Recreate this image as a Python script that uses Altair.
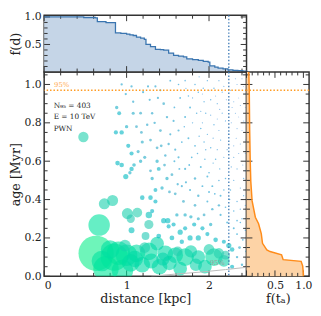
import math
import altair as alt
import pandas as pd

FONT = "DejaVu Serif"
INK = "#333333"
TXT = "#222222"

# ---------------- main scatter: distance [kpc], age [Myr], flux (rel.) ----------------
dist = [
    0.63, 0.85, 0.75, 0.95, 1.00, 1.12, 1.27, 1.37, 1.47, 1.59, 1.71, 1.87, 2.06, 2.18, 1.19, 1.40, 1.65, 1.95, 0.90, 1.05,
    0.667, 0.73, 0.83, 1.01, 1.13, 1.05, 0.476,
    0.94, 1.06, 1.26, 1.35, 1.41, 1.53, 1.63, 1.71, 1.83, 1.87, 1.93, 1.98, 2.06, 2.12, 2.16, 2.34, 2.40, 2.44, 0.99, 1.38,
    1.45, 1.65, 1.75, 1.94, 2.02, 2.10, 2.30, 2.38, 1.08, 1.88,
    0.88, 0.91, 1.08, 1.17, 1.31, 1.49, 1.57, 1.71, 1.77, 1.85, 1.96, 2.06, 2.16, 2.20, 2.32, 2.42, 1.41, 1.63, 1.18, 0.87,
    0.94, 1.90, 1.98, 2.34,
    1.02, 1.06, 1.19, 1.29, 1.37, 1.42, 1.51, 1.59, 1.63, 1.75, 1.83, 1.94, 2.02, 2.14, 2.22, 2.38, 2.44, 1.79, 2.08, 2.30,
    1.17, 1.09,
    0.89, 0.94, 1.06, 1.04, 0.99, 1.37, 1.39, 1.29, 1.46, 1.31, 1.49, 1.55, 1.71, 1.90, 1.83, 1.98, 2.04, 2.20, 2.34, 2.42,
    1.67, 1.35, 1.43, 2.26, 1.77,
    1.19, 1.29, 1.35, 1.31, 1.59, 1.69, 1.83, 1.87, 2.14, 2.12, 2.04, 1.94, 2.14, 1.61, 1.71, 1.78, 1.87, 2.38, 2.34, 2.42,
    1.98,
    1.45, 1.50, 1.57, 1.51, 1.65, 1.71, 1.82, 1.92, 2.02, 1.87, 1.77, 1.98, 2.08, 2.18, 2.22, 2.30, 2.34, 2.38, 1.27, 1.27,
    1.23, 1.06, 2.24, 2.28, 2.37, 2.28, 1.67, 1.55, 1.39,
    1.72, 1.80, 1.92, 2.00, 2.08, 2.18, 2.26, 2.32, 2.42, 2.21, 2.28, 2.13, 2.02, 1.90, 1.80, 1.92, 2.10, 2.27, 2.40, 2.36,
    2.44, 2.12, 2.24, 2.05, 1.88, 1.70, 1.67, 1.86, 1.96, 2.10, 2.18, 2.30, 2.36, 2.41, 2.27, 2.13, 2.05, 1.95, 1.76, 1.64,
    1.58, 2.00, 2.12, 2.30, 2.38, 2.44, 1.92, 2.18, 1.72, 2.07, 2.25, 2.44, 2.30, 2.20, 2.00, 1.52, 1.62, 1.47, 1.53, 1.58,
    1.28, 1.20, 1.12, 1.25, 1.34, 1.14, 1.22, 1.00, 2.44, 2.44, 2.42, 2.36, 2.33, 2.40, 2.44, 2.34, 2.41, 2.45, 2.34, 2.40,
    0.70, 0.80, 1.10, 1.30, 1.52, 1.78, 2.00, 2.12, 0.98, 1.22, 1.44, 1.62, 1.84, 2.20,
]
age = [
    0.12, 0.10, 0.04, 0.03, 0.11, 0.12, 0.13, 0.17, 0.12, 0.11, 0.10, 0.10, 0.10, 0.08, 0.06, 0.05, 0.04, 0.05, 0.12, 0.07,
    0.267, 0.378, 0.395, 0.327, 0.332, 0.30, 0.726,
    1.00, 0.99, 0.99, 0.99, 0.97, 1.02, 1.00, 1.02, 1.00, 0.96, 0.98, 1.02, 0.98, 1.02, 0.96, 1.00, 1.03, 0.95, 0.95, 0.93,
    0.90, 0.93, 0.94, 0.91, 0.92, 0.90, 0.91, 0.89, 0.91, 1.04,
    0.88, 0.85, 0.85, 0.85, 0.85, 0.83, 0.81, 0.83, 0.88, 0.85, 0.85, 0.79, 0.85, 0.81, 0.85, 0.81, 0.76, 0.76, 0.75, 0.75,
    0.75, 0.77, 0.74, 0.77,
    0.68, 0.64, 0.70, 0.71, 0.67, 0.68, 0.69, 0.66, 0.62, 0.72, 0.68, 0.70, 0.67, 0.71, 0.66, 0.69, 0.64, 0.62, 0.61, 0.62,
    0.60, 0.58,
    0.59, 0.58, 0.56, 0.54, 0.52, 0.60, 0.56, 0.55, 0.58, 0.51, 0.51, 0.53, 0.56, 0.57, 0.51, 0.52, 0.47, 0.51, 0.56, 0.51,
    0.47, 0.45, 0.46, 0.45, 0.45,
    0.41, 0.41, 0.39, 0.34, 0.43, 0.39, 0.37, 0.42, 0.42, 0.37, 0.35, 0.32, 0.32, 0.32, 0.32, 0.31, 0.30, 0.35, 0.39, 0.42,
    0.39,
    0.29, 0.29, 0.27, 0.26, 0.23, 0.25, 0.27, 0.25, 0.27, 0.20, 0.20, 0.22, 0.19, 0.18, 0.28, 0.25, 0.22, 0.28, 0.27, 0.32,
    0.21, 0.24, 0.16, 0.14, 0.15, 0.05, 0.18, 0.20, 0.21,
    0.98, 0.93, 0.95, 0.97, 0.94, 0.99, 0.97, 1.03, 0.99, 0.92, 0.88, 0.87, 0.84, 0.86, 0.80, 0.80, 0.82, 0.80, 0.76, 0.83,
    0.88, 0.76, 0.74, 0.72, 0.73, 0.78, 0.70, 0.64, 0.66, 0.66, 0.62, 0.68, 0.64, 0.58, 0.57, 0.56, 0.59, 0.61, 0.58, 0.56,
    0.60, 0.54, 0.50, 0.50, 0.46, 0.55, 0.47, 0.45, 0.49, 0.43, 0.40, 0.37, 0.34, 0.36, 0.44, 0.44, 0.48, 0.63, 0.74, 0.88,
    0.92, 0.96, 0.78, 0.79, 0.80, 0.65, 0.62, 0.78, 0.71, 0.80, 1.05, 0.93, 0.72, 0.30, 0.24, 0.29, 0.19, 0.13, 0.10, 0.06,
    0.08, 0.14, 0.09, 0.08, 0.07, 0.13, 0.14, 0.12, 0.16, 0.15, 0.09, 0.13, 0.06, 0.11,
]
flux = [
    324, 196, 169, 121, 121, 81, 81, 49, 64, 64, 81, 49, 81, 36, 64, 64, 49, 49, 144, 81,
    121, 32, 32, 32, 25, 18, 28,
    1.4, 1.4, 1.2, 1.2, 1.2, 0.9, 0.7, 0.6, 0.6, 0.6, 0.5, 0.5, 0.5, 0.4, 0.4, 0.3, 0.3, 0.3, 1.4, 1.3,
    1.8, 0.9, 0.6, 0.5, 0.5, 0.4, 0.3, 0.3, 1.4, 0.4,
    3.0, 4.0, 2.5, 2.0, 1.5, 1.5, 1.2, 1.0, 1.0, 0.6, 0.5, 0.5, 0.4, 0.4, 0.3, 0.3, 2.0, 1.2, 2.0, 4.5,
    5.0, 0.6, 0.5, 0.3,
    4.5, 4.5, 2.5, 2.0, 2.0, 2.0, 1.5, 1.2, 1.2, 1.0, 0.8, 0.6, 0.6, 0.5, 0.4, 0.3, 0.3, 0.8, 0.6, 0.4,
    3.0, 3.5,
    5.5, 5.5, 5.0, 3.0, 7.0, 3.0, 4.0, 2.0, 2.0, 3.0, 3.0, 2.0, 1.2, 1.0, 1.5, 1.0, 1.0, 0.6, 0.4, 0.4,
    1.2, 4.0, 3.0, 0.6, 1.2,
    5.5, 5.5, 4.5, 4.5, 2.0, 2.0, 1.8, 1.5, 1.0, 1.5, 1.5, 2.0, 1.2, 3.0, 3.0, 3.0, 2.5, 0.5, 0.5, 0.4,
    1.0,
    7.0, 7.0, 4.5, 4.5, 7.0, 4.5, 4.5, 4.5, 3.0, 7.0, 7.0, 4.5, 5.5, 4.5, 1.0, 1.0, 1.0, 0.6, 22, 11,
    16, 9, 7.0, 5.5, 2.0, 4.5, 5.0, 6.0, 6.0,
    0.4, 0.4, 0.3, 0.3, 0.3, 0.3, 0.3, 0.3, 0.25, 0.3, 0.3, 0.3, 0.35, 0.4, 0.5, 0.4, 0.3, 0.3, 0.25, 0.25,
    0.25, 0.35, 0.3, 0.4, 0.5, 0.6, 0.8, 0.6, 0.5, 0.4, 0.4, 0.3, 0.3, 0.3, 0.4, 0.5, 0.5, 0.6, 0.9, 1.0,
    1.0, 0.7, 0.6, 0.4, 0.4, 0.3, 1.0, 0.6, 1.2, 0.8, 0.6, 0.4, 0.6, 0.7, 1.0, 2.0, 1.4, 1.5, 1.2, 0.8,
    1.2, 1.2, 2.0, 1.6, 1.5, 2.5, 2.5, 3.0, 0.25, 0.25, 0.25, 0.25, 0.3, 0.5, 0.5, 0.7, 0.8, 1.0, 1.5, 1.5,
    110, 90, 70, 60, 55, 40, 30, 28, 36, 30, 45, 25, 40, 20,
]

# ---------------- top panel: f(d) ----------------
fd_d = [0, 0.48, 0.62, 0.645, 0.75, 0.865, 0.93, 1.0, 1.04, 1.08, 1.12, 1.17, 1.215, 1.235, 1.29, 1.35, 1.41, 1.45,
        1.51, 1.57, 1.63, 1.69, 1.73, 1.80, 1.87, 1.93, 1.99, 2.01, 2.07, 2.11, 2.17, 2.23, 2.29, 2.35, 2.41, 2.455]
fd_f = [1.0, 0.99, 0.985, 0.913, 0.895, 0.71, 0.70, 0.69, 0.675, 0.663, 0.634, 0.615, 0.594, 0.50, 0.46, 0.413, 0.405,
        0.396, 0.344, 0.303, 0.29, 0.274, 0.239, 0.225, 0.21, 0.195, 0.181, 0.111, 0.09, 0.07, 0.055, 0.04, 0.03,
        0.024, 0.015, 0.012]

# ---------------- right panel: f(t_a) ----------------
ft_age = [0.0, 0.01, 0.053, 0.078, 0.087, 0.112, 0.129, 0.138, 0.172, 0.223, 0.274, 0.308, 0.393, 0.495, 0.6, 0.767,
          0.97, 1.065]
ft_f = [1.0, 1.0, 0.988, 0.96, 0.644, 0.616, 0.414, 0.357, 0.281, 0.259, 0.212, 0.155, 0.098, 0.075, 0.065, 0.055,
        0.048, 0.04]

labels_txt = ["N\u2089\u2085 = 403", "E = 10 TeV", "PWN"]
labels_age = [0.888, 0.829, 0.770]
labels_d = [0.115, 0.115, 0.115]

D95 = 2.24
A95 = 0.97
contour_d = [1.30, 1.60, 1.90, 2.20, 2.455]
contour_a = [0.0, 0.012, 0.022, 0.035, 0.047]

# ---------------- scales / ticks ----------------
D_DOM, A_DOM, FD_DOM, FT_DOM = [0.0, 2.455], [0.0, 1.065], [0.0, 1.03], [0.0, 1.1]
W_MAIN, H_MAIN, W_RIGHT, H_TOP = 207, 209, 64, 58

xs = alt.Scale(domain=D_DOM, nice=False, zero=False)
ys = alt.Scale(domain=A_DOM, nice=False, zero=False)
fds = alt.Scale(domain=FD_DOM, nice=False, zero=False)
fts = alt.Scale(domain=FT_DOM, nice=False, zero=False)

MAJ, MINL = 6, 3.5

x_major = [0, 1, 2]
x_minor = [round(0.2 * i, 2) for i in range(1, 13) if i % 5 != 0]
a_major = [0.0, 0.2, 0.4, 0.6, 0.8, 1.0]
a_minor = [round(0.05 * i, 2) for i in range(1, 22) if i % 4 != 0]
fd_major = [0.5, 1.0]
fd_minor = [round(0.1 * i, 1) for i in range(1, 11) if i % 5 != 0]
ft_major = [0.0, 0.5, 1.0]
ft_minor = [round(0.1 * i, 1) for i in range(1, 11) if i % 5 != 0]

SIDES = ["bottom", "top", "left", "right"]
PATHS = ["M0,0L0,-1", "M0,0L0,1", "M0,0L1,0", "M0,0L-1,0"]


def tick_table(xvals, yvals, xdom, ydom):
    rows = []
    for v in xvals:
        rows.append({"tx": v, "ty": ydom[0], "side": "bottom"})
        rows.append({"tx": v, "ty": ydom[1], "side": "top"})
    for v in yvals:
        rows.append({"tx": xdom[0], "ty": v, "side": "left"})
        rows.append({"tx": xdom[1], "ty": v, "side": "right"})
    return pd.DataFrame(rows)


def tick_layer(xvals, yvals, xscale, yscale, xdom, ydom, L):
    return alt.Chart(tick_table(xvals, yvals, xdom, ydom)).mark_point(
        size=(2 * L) ** 2, filled=False, color=INK, strokeWidth=1, opacity=1
    ).encode(
        x=alt.X("tx:Q", scale=xscale, axis=None),
        y=alt.Y("ty:Q", scale=yscale, axis=None),
        shape=alt.Shape("side:N", scale=alt.Scale(domain=SIDES, range=PATHS), legend=None),
    )


lab = dict(domain=False, ticks=False, grid=False, labelPadding=3)

main_df = pd.DataFrame({"distance": dist, "age": age, "flux": flux})
main_df["lflux"] = [math.log10(v) for v in flux]
fd_df = pd.DataFrame({"d": fd_d, "f": fd_f})
ft_df = pd.DataFrame({"age": ft_age, "f": ft_f})
txt_df = pd.DataFrame({"d": labels_d, "age": labels_age, "t": labels_txt})
cont_df = pd.DataFrame({"d": contour_d, "age": contour_a})

# ---------------- main panel ----------------
scatter = alt.Chart(main_df).mark_circle(opacity=0.6, clip=True).encode(
    x=alt.X("distance:Q", scale=xs,
            axis=alt.Axis(orient="bottom", values=x_major, format="d", title="distance [kpc]", titlePadding=3, **lab)),
    y=alt.Y("age:Q", scale=ys,
            axis=alt.Axis(orient="left", values=a_major, format=".1f", title="age [Myr]", titlePadding=2, **lab)),
    size=alt.Size("flux:Q", scale=alt.Scale(domain=[0, 330], range=[0, 1320]), legend=None),
    color=alt.Color("lflux:Q", scale=alt.Scale(domain=[-0.6, 0.3, 1.3, 2.52],
                                               range=["#3a84d8", "#2aa6c6", "#2ccbb0", "#10ef8c"]), legend=None),
    order=alt.Order("flux:Q", sort="descending"),
)
contour = alt.Chart(cont_df).mark_line(color="#bbbbbb", strokeWidth=1, clip=True).encode(
    x=alt.X("d:Q", scale=xs, axis=None), y=alt.Y("age:Q", scale=ys, axis=None))
vline_main = alt.Chart(pd.DataFrame({"d": [D95]})).mark_rule(color="#3a78b5", strokeDash=[1.5, 2], strokeWidth=1.3).encode(
    x=alt.X("d:Q", scale=xs, axis=None))
hline_main = alt.Chart(pd.DataFrame({"age": [A95]})).mark_rule(color="#ff9a1f", strokeDash=[1.5, 2], strokeWidth=1.4).encode(
    y=alt.Y("age:Q", scale=ys, axis=None))
notes = alt.Chart(txt_df).mark_text(align="left", baseline="middle", font=FONT, fontSize=7.5, color=TXT).encode(
    x=alt.X("d:Q", scale=xs, axis=None), y=alt.Y("age:Q", scale=ys, axis=None), text="t:N")
p95_orange = alt.Chart(pd.DataFrame({"d": [0.12], "age": [0.995], "t": ["95%"]})).mark_text(
    align="left", baseline="middle", font=FONT, fontSize=7, color="#ffab55").encode(
    x=alt.X("d:Q", scale=xs, axis=None), y=alt.Y("age:Q", scale=ys, axis=None), text="t:N")
p95_gray = alt.Chart(pd.DataFrame({"d": [2.10], "age": [0.07], "t": ["95%"]})).mark_text(
    align="center", baseline="middle", font=FONT, fontSize=7, color="#9a9a9a").encode(
    x=alt.X("d:Q", scale=xs, axis=None), y=alt.Y("age:Q", scale=ys, axis=None), text="t:N")

main = alt.layer(
    tick_layer(x_major, a_major, xs, ys, D_DOM, A_DOM, MAJ),
    tick_layer(x_minor, a_minor, xs, ys, D_DOM, A_DOM, MINL),
    scatter, contour, vline_main, hline_main, notes, p95_orange, p95_gray,
).resolve_axis(x="independent", y="independent").resolve_scale(size="independent", shape="independent",
                                                                 color="independent").properties(width=W_MAIN, height=H_MAIN)

# ---------------- top panel ----------------
fd_area = alt.Chart(fd_df).mark_area(interpolate="step-after", color="#c5d5e7", opacity=1).encode(
    x=alt.X("d:Q", scale=xs, axis=None),
    y=alt.Y("f:Q", scale=fds,
            axis=alt.Axis(orient="left", values=fd_major, format=".1f", title="f(d)", titlePadding=2, **lab)))
fd_line = alt.Chart(fd_df).mark_line(interpolate="step-after", color="#3a75b0", strokeWidth=1.3).encode(
    x=alt.X("d:Q", scale=xs, axis=None), y=alt.Y("f:Q", scale=fds, axis=None))
vline_top = alt.Chart(pd.DataFrame({"d": [D95]})).mark_rule(color="#3a78b5", strokeDash=[1.5, 2], strokeWidth=1.3).encode(
    x=alt.X("d:Q", scale=xs, axis=None))
top = alt.layer(
    fd_area,
    tick_layer(x_major, fd_major, xs, fds, D_DOM, FD_DOM, MAJ),
    tick_layer(x_minor, fd_minor, xs, fds, D_DOM, FD_DOM, MINL),
    fd_line, vline_top,
).resolve_axis(x="independent", y="independent").properties(width=W_MAIN, height=H_TOP)

# ---------------- right panel ----------------
ft_area = alt.Chart(ft_df).mark_area(orient="horizontal", color="#fdd3a6", opacity=1).encode(
    y=alt.Y("age:Q", scale=ys, axis=None),
    x=alt.X("f:Q", scale=fts, stack=None,
            axis=alt.Axis(orient="bottom", values=[0.5, 1.0], format=".1f", title="f(t\u2090)", titlePadding=3, **lab)),
    x2=alt.X2(datum=0.0))
ft_line = alt.Chart(ft_df).mark_line(color="#ff8c1a", strokeWidth=1.5).encode(
    y=alt.Y("age:Q", scale=ys, axis=None), x=alt.X("f:Q", scale=fts, axis=None), order=alt.Order("age:Q"))
hline_right = alt.Chart(pd.DataFrame({"age": [A95]})).mark_rule(color="#ff9a1f", strokeDash=[1.5, 2], strokeWidth=1.4).encode(
    y=alt.Y("age:Q", scale=ys, axis=None))
right = alt.layer(
    ft_area,
    tick_layer(ft_major, a_major, fts, ys, FT_DOM, A_DOM, MAJ),
    tick_layer(ft_minor, a_minor, fts, ys, FT_DOM, A_DOM, MINL),
    ft_line, hline_right,
).resolve_axis(x="independent", y="independent").properties(width=W_RIGHT, height=H_MAIN)

# empty corner cell
corner = alt.Chart(pd.DataFrame({"d": [0.5], "f": [0.5]})).mark_point(opacity=0, size=1).encode(
    x=alt.X("d:Q", axis=None), y=alt.Y("f:Q", axis=None)
).properties(width=W_RIGHT, height=H_TOP, view=alt.ViewBackground(stroke="transparent"))

chart = alt.concat(top, corner, main, right, columns=2, spacing=0, bounds="flush", align="each").configure_view(
    stroke=INK, strokeWidth=1.5
).configure_axis(
    labelFont=FONT, labelFontSize=11, labelColor=TXT, titleFont=FONT, titleFontSize=13,
    titleFontWeight="normal", titleColor=TXT
).properties(padding={"left": 0, "top": -2, "right": 0, "bottom": 0}, background="white")

chart.save("out.html", embed_options={"renderer": "svg", "actions": False})
